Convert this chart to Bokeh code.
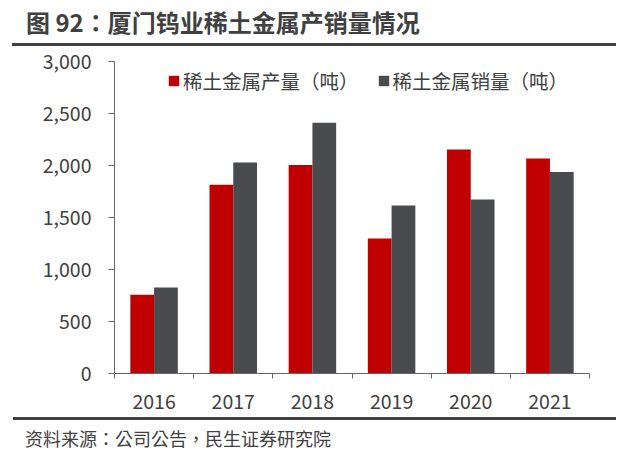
from bokeh.plotting import figure
from bokeh.models import (ColumnDataSource, FixedTicker, NumeralTickFormatter,
                          Legend, LegendItem, Div, Range1d)
from bokeh.layouts import column
from bokeh.embed import file_html
from bokeh.resources import INLINE

years = ["2016", "2017", "2018", "2019", "2020", "2021"]
production = [757, 1815, 2005, 1298, 2154, 2068]
sales = [826, 2030, 2410, 1615, 1673, 1938]
series_names = ["稀土金属产量（吨）", "稀土金属销量（吨）"]
title_text = "图 92：厦门钨业稀土金属产销量情况"
source_text = "资料来源：公司公告，民生证券研究院"
y_ticks = [0, 500, 1000, 1500, 2000, 2500, 3000]

FONT = "Noto Sans CJK SC"
FONT_T = "Noto Sans CJK TC"
RED = "#C00000"
GRAY = "#4A4B4F"
TXT = "#404040"
AX = "#666666"

n = len(years)
centers = [i + 0.5 for i in range(n)]
src = ColumnDataSource(dict(
    xr=[c - 0.15 for c in centers],
    xg=[c + 0.15 for c in centers],
    prod=production, sales=sales))

p = figure(width=624, height=369, output_backend="svg", toolbar_location=None,
           x_range=Range1d(0, n), y_range=Range1d(0, 3000),
           min_border_left=114, min_border_right=35, min_border_top=15,
           min_border_bottom=42)
p.outline_line_color = None
p.xgrid.grid_line_color = None
p.ygrid.grid_line_color = None
p.background_fill_color = None
p.border_fill_color = None

r1 = p.vbar(x="xr", top="prod", width=0.3, source=src, fill_color=RED, line_color=None)
r2 = p.vbar(x="xg", top="sales", width=0.3, source=src, fill_color=GRAY, line_color=None)

# x axis
p.xaxis.ticker = FixedTicker(ticks=centers, minor_ticks=list(range(n + 1)))
p.xaxis.major_label_overrides = {c: y for c, y in zip(centers, years)}
p.xaxis.major_tick_line_color = None
p.xaxis.minor_tick_line_color = AX
p.xaxis.minor_tick_out = 5
p.xaxis.minor_tick_in = 0
p.xaxis.axis_line_color = AX
p.xaxis.major_label_text_font = FONT
p.xaxis.major_label_text_font_size = "19.5px"
p.xaxis.major_label_text_color = TXT
p.xaxis.major_label_standoff = 14

# y axis
p.yaxis.ticker = FixedTicker(ticks=y_ticks)
p.yaxis.formatter = NumeralTickFormatter(format="0,0")
p.yaxis.major_tick_line_color = AX
p.yaxis.major_tick_out = 6
p.yaxis.major_tick_in = 0
p.yaxis.minor_tick_line_color = None
p.yaxis.axis_line_color = AX
p.yaxis.major_label_text_font = FONT
p.yaxis.major_label_text_font_size = "19.5px"
p.yaxis.major_label_text_color = TXT
p.yaxis.major_label_standoff = 17

legend = Legend(items=[LegendItem(label=series_names[0], renderers=[r1]),
                       LegendItem(label=series_names[1], renderers=[r2])],
                orientation="horizontal", location=(53, 278),
                padding=0, margin=0, spacing=18, label_standoff=3,
                glyph_width=13, glyph_height=13,
                label_text_font=FONT, label_text_font_size="19.5px",
                label_text_color=TXT, border_line_color=None,
                background_fill_alpha=0)
p.add_layout(legend)

title_html = (
    f'<div style="box-sizing:border-box;width:604px;height:46px;'
    f'border-bottom:3px solid #404040;padding:0 0 0 14px;'
    f"font-family:'{FONT_T}';font-size:24px;font-weight:bold;color:{TXT};"
    f'line-height:43px;white-space:nowrap;">{title_text}</div>')
source_html = (
    f'<div style="box-sizing:border-box;width:603px;height:33px;'
    f'border-top:3px solid #404040;padding:3px 0 0 12px;'
    f"font-family:'{FONT_T}';font-size:18px;color:{TXT};"
    f'line-height:30px;white-space:nowrap;">{source_text}</div>')

title_div = Div(text=title_html, width=604, height=46, margin=(0, 0, 0, 12))
source_div = Div(text=source_html, width=603, height=33, margin=(2, 0, 0, 13))

layout = column(title_div, p, source_div, spacing=0)
open("out.html", "w").write(file_html(layout, INLINE))
